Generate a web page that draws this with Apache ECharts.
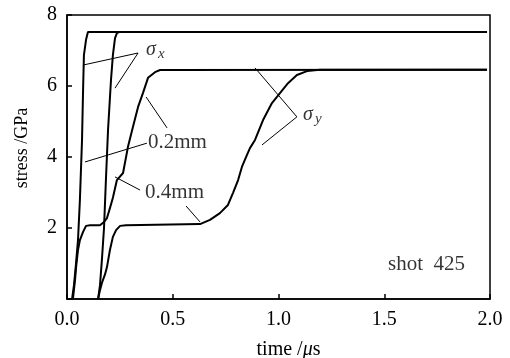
<!DOCTYPE html>
<html>
<head>
<meta charset="utf-8">
<script src="https://cdn.jsdelivr.net/npm/echarts@6/dist/echarts.min.js"></script>
<style>
  html, body { margin: 0; padding: 0; background: #fff; }
  #chart { width: 510px; height: 358px; }
</style>
</head>
<body>
<div id="chart"></div>
<script>
// time (μs), stress (GPa)
const sigmaX02 = [
  [0.024, 0], [0.033, 0.39], [0.042, 0.96], [0.052, 1.66], [0.061, 2.79],
  [0.071, 4.48], [0.076, 5.89], [0.080, 6.87], [0.090, 7.30], [0.099, 7.52], [1.986, 7.52]
];
const sigmaX04 = [
  [0.147, 0], [0.156, 0.39], [0.165, 1.10], [0.175, 2.00], [0.184, 3.35],
  [0.194, 4.76], [0.208, 6.17], [0.217, 6.87], [0.227, 7.35], [0.236, 7.49], [0.246, 7.52], [1.986, 7.52]
];
const sigmaY02 = [
  [0.028, 0], [0.038, 0.54], [0.043, 0.90], [0.052, 1.38], [0.061, 1.66],
  [0.076, 1.89], [0.090, 2.06], [0.109, 2.08], [0.156, 2.08], [0.175, 2.17],
  [0.189, 2.28], [0.203, 2.56], [0.217, 2.85], [0.236, 3.35], [0.265, 3.55],
  [0.288, 4.28], [0.312, 4.85], [0.336, 5.41], [0.359, 5.80], [0.383, 6.23],
  [0.416, 6.39], [0.440, 6.45], [1.986, 6.46]
];
const sigmaY04 = [
  [0.147, 0], [0.156, 0.25], [0.165, 0.45], [0.180, 0.70], [0.189, 0.90],
  [0.203, 1.38], [0.217, 1.75], [0.232, 1.94], [0.251, 2.06], [0.279, 2.08],
  [0.629, 2.11], [0.676, 2.23], [0.723, 2.42], [0.761, 2.65], [0.785, 2.99],
  [0.809, 3.35], [0.827, 3.72], [0.851, 4.06], [0.865, 4.25], [0.889, 4.48],
  [0.927, 5.04], [0.969, 5.52], [1.007, 5.80], [1.045, 6.08], [1.087, 6.31],
  [1.135, 6.42], [1.196, 6.46], [1.986, 6.46]
];

// annotation leader lines and labels (data coords)
const leaders = [
  [[0.076, 6.59], [0.336, 6.93]],
  [[0.227, 5.94], [0.336, 6.93]],
  [[0.085, 3.86], [0.378, 4.39]],
  [[0.374, 5.69], [0.473, 4.82]],
  [[0.227, 3.44], [0.345, 3.07]],
  [[0.563, 2.62], [0.629, 2.17]],
  [[0.889, 6.51], [1.087, 5.13]],
  [[1.087, 5.13], [0.922, 4.34]]
];
const labels = [
  { value: [0.374, 7.01], text: "{s|σ}{sub|x}" },
  { value: [0.383, 4.42], text: "0.2mm" },
  { value: [0.369, 3.01], text: "0.4mm" },
  { value: [1.116, 5.18], text: "{s|σ}{sub|y}" },
  { value: [1.518, 0.96], text: "shot  425" }
];

const xTicks = [0, 0.5, 1.0, 1.5, 2.0];
const yTicks = [0, 2, 4, 6, 8];

const font = "Liberation Serif";
const chart = echarts.init(document.getElementById("chart"));

const curve = (data) => ({
  type: "line",
  data,
  showSymbol: false,
  lineStyle: { color: "#000", width: 2 },
  animation: false
});

chart.setOption({
  animation: false,
  grid: {
    left: 67, right: 20, top: 15, bottom: 59,
    outerBoundsMode: "none",
    show: true, borderColor: "#000", borderWidth: 1.5
  },
  xAxis: {
    type: "value",
    min: xTicks[0],
    max: xTicks[xTicks.length - 1],
    interval: 0.5,
    name: "time /{i|μ}s",
    nameLocation: "middle",
    nameGap: 41,
    nameTextStyle: {
      fontFamily: font, fontSize: 20, color: "#000", padding: [0, 0, 0, 20],
      rich: { i: { fontFamily: font, fontSize: 20, fontStyle: "italic", color: "#000" } }
    },
    axisLine: { lineStyle: { color: "#000", width: 1.5 } },
    axisTick: { inside: true, length: 5, lineStyle: { color: "#000", width: 1.5 } },
    axisLabel: {
      fontFamily: font, fontSize: 20, color: "#000", margin: 11,
      formatter: (v) => v.toFixed(1)
    },
    splitLine: { show: false }
  },
  yAxis: {
    type: "value",
    min: yTicks[0],
    max: yTicks[yTicks.length - 1],
    interval: 2,
    name: "stress /GPa",
    nameLocation: "middle",
    nameGap: 36,
    nameTextStyle: { fontFamily: font, fontSize: 18, color: "#000", padding: [0, 0, 0, 18] },
    axisLine: { lineStyle: { color: "#000", width: 1.5 } },
    axisTick: { inside: true, length: 5, lineStyle: { color: "#000", width: 1.5 } },
    axisLabel: {
      fontFamily: font, fontSize: 20, color: "#000", margin: 10,
      formatter: (v) => (v === 0 ? "" : String(v))
    },
    splitLine: { show: false }
  },
  series: [
    curve(sigmaX02),
    curve(sigmaX04),
    curve(sigmaY02),
    curve(sigmaY04),
    {
      type: "lines",
      coordinateSystem: "cartesian2d",
      data: leaders.map((c) => ({ coords: c })),
      lineStyle: { color: "#000", width: 1, opacity: 1 },
      silent: true
    },
    {
      type: "scatter",
      symbolSize: 0,
      data: labels.map((l) => ({ value: l.value, text: l.text })),
      label: {
        show: true,
        position: "right",
        distance: 0,
        align: "left",
        verticalAlign: "middle",
        fontFamily: font,
        fontSize: 21,
        color: "#000",
        formatter: (p) => p.data.text,
        rich: {
          s: { fontFamily: font, fontSize: 20, fontStyle: "italic", color: "#000" },
          sub: { fontFamily: font, fontSize: 15, fontStyle: "italic", color: "#000", padding: [8, 0, 0, 2] }
        }
      },
      silent: true
    }
  ]
});
</script>
</body>
</html>
